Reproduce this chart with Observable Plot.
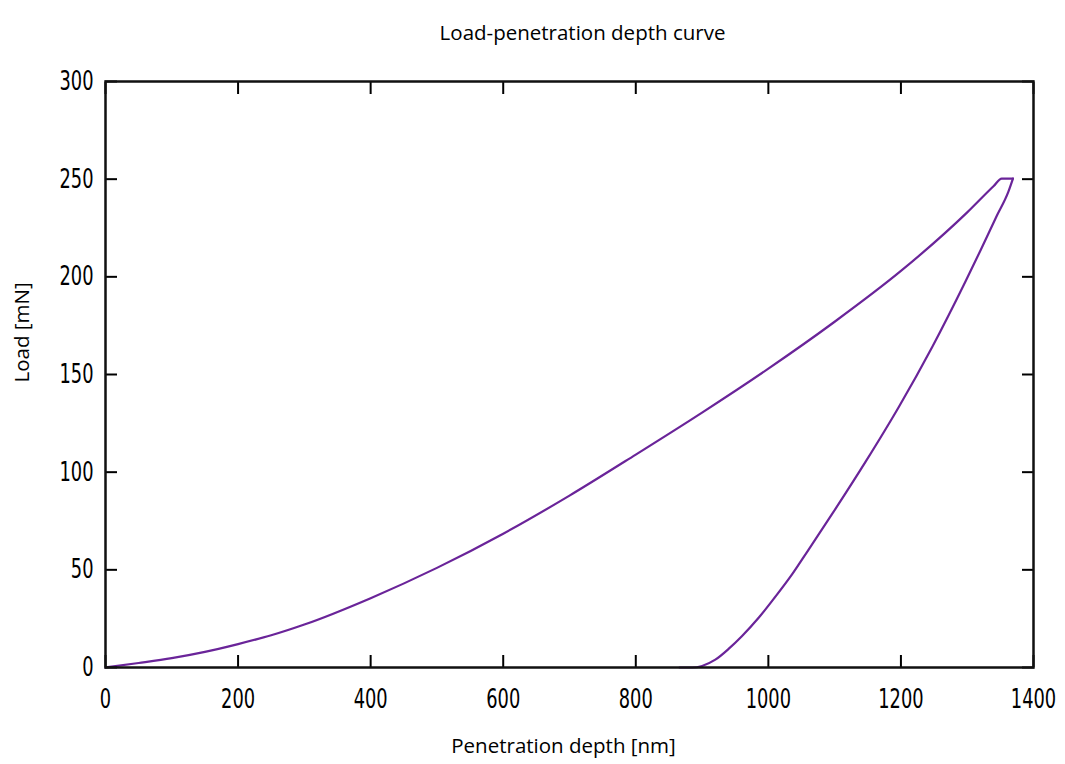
<!DOCTYPE html>
<html>
<head>
<meta charset="utf-8">
<script src="https://cdn.jsdelivr.net/npm/d3@7"></script>
<script src="https://cdn.jsdelivr.net/npm/@observablehq/plot@0.6"></script>
<style>
  html, body { margin: 0; padding: 0; background: #fff; }
</style>
</head>
<body>
<div id="chart"></div>
<script>
// Loading branch (depth nm, load mN)
const loadDepth = [0, 50, 100, 150, 200, 250, 300, 400, 500, 600, 700, 800, 900, 1000, 1100, 1200, 1300, 1340, 1352, 1369];
const loadForce = [0, 2.3, 4.8, 8, 12, 16.5, 22, 35.5, 51, 68.5, 88, 109, 130.5, 153, 177, 203, 233, 246.5, 250.3, 250.3];
// Unloading branch (depth nm, load mN)
const unloadDepth = [866, 885, 900, 920, 940, 960, 986, 1010, 1036, 1060, 1097, 1147, 1197, 1247, 1297, 1320, 1345, 1362, 1369];
const unloadForce = [0, 0, 0.8, 4, 9.5, 16, 25.7, 36, 47.8, 60, 79, 105.5, 133.5, 164, 197.4, 213.5, 231.5, 243.5, 250.3];

const xTicks = [0, 200, 400, 600, 800, 1000, 1200, 1400];
const yTicks = [0, 50, 100, 150, 200, 250, 300];

const titleText = ["Load-penetration depth curve"];
const xLabel = ["Penetration depth [nm]"];
const yLabel = ["Load [mN]"];

const curve = [
  ...loadDepth.map((d, i) => ({branch: "loading", depth: d, load: loadForce[i]})),
  ...unloadDepth.map((d, i) => ({branch: "unloading", depth: d, load: unloadForce[i]}))
];

const tickFont = "'DejaVu Sans', sans-serif";
const labelFont = "'Open Sans', sans-serif";

const chart = Plot.plot({
  width: 1065,
  height: 764,
  marginTop: 81,
  marginRight: 32,
  marginBottom: 97,
  marginLeft: 105,
  style: {background: "#fff", color: "#000"},
  x: {domain: [0, 1400]},
  y: {domain: [0, 300]},
  marks: [
    Plot.line(curve, {x: "depth", y: "load", z: "branch", stroke: "#6a2499", strokeWidth: 2.2, curve: "monotone-x"}),
    Plot.axisX(xTicks, {anchor: "bottom", tickSize: 0, tickPadding: 21, fontSize: 27, fontFamily: tickFont, tickFormat: d => String(d), label: null}),
    Plot.axisX(xTicks, {anchor: "bottom", tickSize: -12, strokeWidth: 2, fill: "none", label: null}),
    Plot.axisX(xTicks, {anchor: "top", tickSize: -12, strokeWidth: 2, fill: "none", label: null}),
    Plot.axisY(yTicks, {anchor: "left", tickSize: 0, tickPadding: 12, fontSize: 27, fontFamily: tickFont, tickFormat: d => String(d), label: null}),
    Plot.axisY(yTicks, {anchor: "left", tickSize: -12, strokeWidth: 2, fill: "none", label: null}),
    Plot.axisY(yTicks, {anchor: "right", tickSize: -12, strokeWidth: 2, fill: "none", label: null}),
    Plot.frame({stroke: "#111", strokeWidth: 2.5}),
    Plot.text(titleText, {text: d => d, frameAnchor: "top", dy: -56, dx: 13, fontSize: 20.5, fontFamily: labelFont, fill: "#000"}),
    Plot.text(xLabel, {text: d => d, frameAnchor: "bottom", dy: 85, dx: -6, fontSize: 20.5, fontFamily: labelFont, fill: "#000"}),
    Plot.text(yLabel, {text: d => d, frameAnchor: "left", dx: -83, dy: 8, rotate: -90, fontSize: 20.5, fontFamily: labelFont, fill: "#000"})
  ]
});
// Narrow the tick-label glyphs horizontally to mimic the condensed face of the original
d3.select(chart).selectAll('g[aria-label="x-axis tick label"] text, g[aria-label="y-axis tick label"] text')
  .each(function() {
    const t = this.getAttribute("transform") || "";
    this.setAttribute("transform", t + " scale(0.66,1)");
  });
document.getElementById("chart").appendChild(chart);
</script>
</body>
</html>
